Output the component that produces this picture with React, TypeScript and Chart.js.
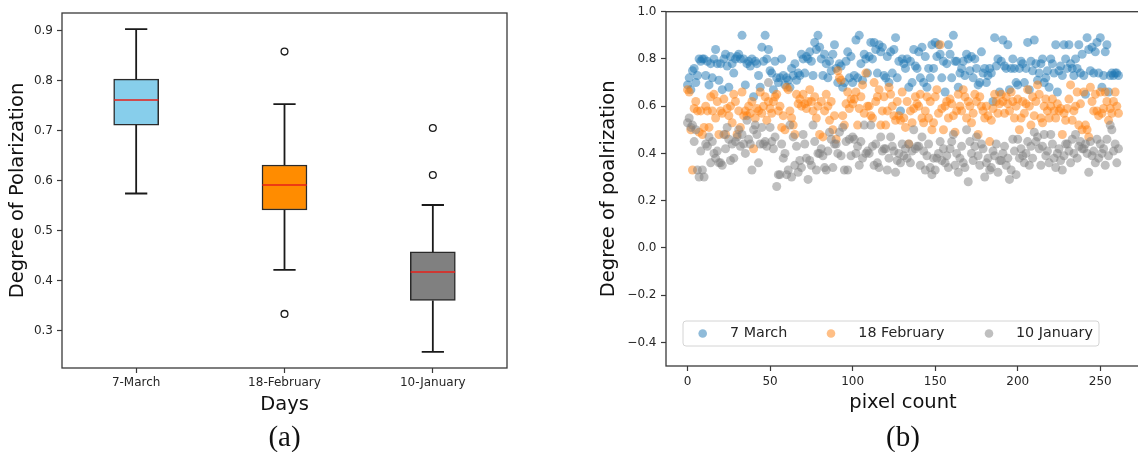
import React, { useEffect, useRef } from 'react';
import { Chart, registerables } from 'chart.js';

Chart.register(...registerables);

// ---------- Panel (a): box plot ----------
const dayLabels = ['7-March', '18-February', '10-January'];
const boxColors = ['#87CEEB', '#FF8C00', '#808080'];
const whiskerLow = [0.574, 0.421, 0.257];
const quartile1 = [0.711, 0.541, 0.36];
const medians = [0.761, 0.591, 0.417];
const quartile3 = [0.803, 0.631, 0.457];
const whiskerHigh = [0.903, 0.753, 0.551];
const outlierDay = [2, 2, 3, 3];
const outlierValue = [0.858, 0.333, 0.705, 0.611];
const boxYTicks = [0.3, 0.4, 0.5, 0.6, 0.7, 0.8, 0.9];
const boxXTicks = [1, 2, 3];

// ---------- Panel (b): scatter ----------
const seriesNames = ['7 March', '18 February', '10 January'];
const seriesColors = ['rgba(31,119,180,0.5)', 'rgba(255,127,14,0.5)', 'rgba(128,128,128,0.5)'];
const march7 = [
  0.69, 0.72, 0.67, 0.75, 0.76, 0.70, 0.73, 0.80, 0.79, 0.80,
  0.80, 0.73, 0.79, 0.69, 0.78, 0.72, 0.80, 0.84, 0.78, 0.71,
  0.78, 0.67, 0.80, 0.82, 0.77, 0.68, 0.81, 0.78, 0.74, 0.80,
  0.81, 0.82, 0.80, 0.90, 0.80, 0.69, 0.78, 0.79, 0.77, 0.80,
  0.64, 0.79, 0.78, 0.73, 0.68, 0.85, 0.79, 0.90, 0.80, 0.84,
  0.75, 0.74, 0.67, 0.79, 0.72, 0.70, 0.72, 0.80, 0.73, 0.69,
  0.72, 0.71, 0.68, 0.76, 0.73, 0.78, 0.71, 0.74, 0.73, 0.82,
  0.80, 0.74, 0.81, 0.80, 0.83, 0.79, 0.73, 0.87, 0.84, 0.90,
  0.85, 0.80, 0.73, 0.82, 0.78, 0.72, 0.79, 0.75, 0.82, 0.86,
  0.76, 0.70, 0.78, 0.77, 0.68, 0.70, 0.79, 0.83, 0.72, 0.81,
  0.70, 0.73, 0.88, 0.72, 0.90, 0.78, 0.71, 0.82, 0.80, 0.74,
  0.81, 0.87, 0.80, 0.87, 0.84, 0.74, 0.86, 0.83, 0.85, 0.73,
  0.72, 0.81, 0.70, 0.83, 0.74, 0.84, 0.89, 0.72, 0.79, 0.58,
  0.80, 0.78, 0.76, 0.80, 0.68, 0.79, 0.70, 0.84, 0.77, 0.76,
  0.83, 0.72, 0.85, 0.70, 0.81, 0.68, 0.76, 0.72, 0.86, 0.76,
  0.87, 0.81, 0.86, 0.82, 0.72, 0.79, 0.66, 0.78, 0.86, 0.82,
  0.72, 0.90, 0.79, 0.79, 0.68, 0.74, 0.76, 0.79, 0.73, 0.82,
  0.80, 0.75, 0.81, 0.72, 0.80, 0.76, 0.69, 0.70, 0.83, 0.74,
  0.76, 0.70, 0.73, 0.76, 0.74, 0.62, 0.89, 0.77, 0.80, 0.66,
  0.79, 0.88, 0.77, 0.76, 0.86, 0.67, 0.76, 0.80, 0.76, 0.70,
  0.69, 0.76, 0.79, 0.78, 0.70, 0.76, 0.87, 0.67, 0.79, 0.75,
  0.88, 0.78, 0.71, 0.74, 0.78, 0.80, 0.70, 0.72, 0.75, 0.68,
  0.80, 0.78, 0.74, 0.86, 0.66, 0.75, 0.77, 0.73, 0.86, 0.80,
  0.76, 0.86, 0.78, 0.76, 0.73, 0.80, 0.76, 0.86, 0.74, 0.82,
  0.73, 0.65, 0.89, 0.84, 0.75, 0.85, 0.74, 0.83, 0.87, 0.74,
  0.89, 0.68, 0.73, 0.83, 0.86, 0.66, 0.73, 0.74, 0.73, 0.74, 0.74, 0.73,
];
const feb18 = [
  0.67, 0.66, 0.50, 0.33, 0.59, 0.62, 0.58, 0.49, 0.58, 0.48,
  0.51, 0.60, 0.58, 0.51, 0.64, 0.58, 0.65, 0.55, 0.62, 0.48,
  0.58, 0.57, 0.63, 0.48, 0.59, 0.56, 0.60, 0.53, 0.65, 0.62,
  0.48, 0.58, 0.51, 0.66, 0.56, 0.58, 0.56, 0.60, 0.57, 0.62,
  0.42, 0.55, 0.59, 0.58, 0.66, 0.57, 0.60, 0.64, 0.54, 0.62,
  0.59, 0.57, 0.62, 0.64, 0.65, 0.58, 0.60, 0.51, 0.56, 0.50,
  0.68, 0.67, 0.58, 0.55, 0.52, 0.48, 0.65, 0.61, 0.63, 0.60,
  0.65, 0.61, 0.59, 0.62, 0.67, 0.62, 0.58, 0.64, 0.55, 0.60,
  0.48, 0.62, 0.47, 0.58, 0.65, 0.60, 0.54, 0.62, 0.50, 0.56,
  0.46, 0.75, 0.72, 0.71, 0.56, 0.52, 0.61, 0.66, 0.59, 0.63,
  0.61, 0.63, 0.66, 0.52, 0.59, 0.64, 0.69, 0.57, 0.74, 0.60,
  0.60, 0.56, 0.55, 0.70, 0.62, 0.64, 0.67, 0.52, 0.58, 0.64,
  0.52, 0.58, 0.68, 0.65, 0.60, 0.56, 0.54, 0.62, 0.56, 0.54,
  0.66, 0.55, 0.51, 0.62, 0.44, 0.58, 0.53, 0.59, 0.64, 0.61,
  0.60, 0.65, 0.55, 0.53, 0.58, 0.64, 0.55, 0.62, 0.50, 0.53,
  0.64, 0.67, 0.57, 0.86, 0.59, 0.50, 0.60, 0.62, 0.55, 0.63,
  0.61, 0.56, 0.49, 0.58, 0.65, 0.60, 0.58, 0.67, 0.64, 0.55,
  0.62, 0.60, 0.53, 0.57, 0.65, 0.62, 0.48, 0.64, 0.60, 0.58,
  0.55, 0.60, 0.56, 0.45, 0.54, 0.59, 0.65, 0.62, 0.57, 0.61,
  0.65, 0.62, 0.57, 0.64, 0.61, 0.58, 0.66, 0.62, 0.55, 0.60,
  0.63, 0.50, 0.55, 0.62, 0.57, 0.61, 0.67, 0.60, 0.52, 0.64,
  0.56, 0.62, 0.69, 0.65, 0.55, 0.53, 0.60, 0.63, 0.58, 0.55,
  0.60, 0.63, 0.58, 0.55, 0.61, 0.58, 0.59, 0.48, 0.57, 0.54,
  0.59, 0.63, 0.69, 0.54, 0.58, 0.60, 0.66, 0.52, 0.61, 0.50,
  0.66, 0.52, 0.50, 0.47, 0.68, 0.62, 0.58, 0.65, 0.58, 0.56,
  0.66, 0.57, 0.59, 0.66, 0.62, 0.54, 0.59, 0.57, 0.62, 0.66, 0.60, 0.57,
];
const jan10 = [
  0.53, 0.55, 0.51, 0.52, 0.45, 0.50, 0.33, 0.30, 0.41, 0.33,
  0.30, 0.44, 0.43, 0.47, 0.36, 0.45, 0.40, 0.38, 0.41, 0.36,
  0.36, 0.35, 0.48, 0.42, 0.51, 0.46, 0.37, 0.44, 0.38, 0.45,
  0.47, 0.50, 0.43, 0.48, 0.44, 0.40, 0.54, 0.46, 0.44, 0.33,
  0.50, 0.52, 0.48, 0.36, 0.44, 0.51, 0.44, 0.45, 0.43, 0.70,
  0.51, 0.45, 0.42, 0.47, 0.26, 0.31, 0.31, 0.44, 0.38, 0.40,
  0.31, 0.33, 0.52, 0.30, 0.47, 0.35, 0.43, 0.32, 0.37, 0.34,
  0.48, 0.44, 0.38, 0.29, 0.37, 0.35, 0.52, 0.45, 0.33, 0.40,
  0.40, 0.42, 0.39, 0.34, 0.33, 0.41, 0.49, 0.46, 0.34, 0.44,
  0.44, 0.40, 0.49, 0.39, 0.51, 0.33, 0.45, 0.33, 0.46, 0.39,
  0.47, 0.46, 0.40, 0.43, 0.35, 0.45, 0.38, 0.52, 0.40, 0.41,
  0.40, 0.52, 0.43, 0.35, 0.44, 0.36, 0.34, 0.47, 0.41, 0.42,
  0.42, 0.33, 0.38, 0.47, 0.43, 0.41, 0.32, 0.37, 0.40, 0.36,
  0.44, 0.39, 0.42, 0.38, 0.44, 0.36, 0.41, 0.50, 0.42, 0.43,
  0.43, 0.35, 0.47, 0.41, 0.33, 0.39, 0.44, 0.34, 0.31, 0.38,
  0.33, 0.38, 0.40, 0.45, 0.37, 0.42, 0.36, 0.39, 0.34, 0.42,
  0.45, 0.48, 0.35, 0.40, 0.32, 0.38, 0.43, 0.36, 0.34, 0.50,
  0.28, 0.45, 0.40, 0.37, 0.43, 0.47, 0.39, 0.35, 0.44, 0.42,
  0.30, 0.36, 0.38, 0.33, 0.34, 0.41, 0.39, 0.44, 0.32, 0.37,
  0.37, 0.40, 0.43, 0.35, 0.38, 0.29, 0.33, 0.46, 0.41, 0.31,
  0.46, 0.38, 0.42, 0.39, 0.36, 0.40, 0.45, 0.35, 0.43, 0.38,
  0.49, 0.45, 0.47, 0.42, 0.35, 0.43, 0.48, 0.39, 0.41, 0.36,
  0.48, 0.44, 0.38, 0.34, 0.40, 0.42, 0.37, 0.33, 0.39, 0.44,
  0.44, 0.41, 0.36, 0.46, 0.40, 0.48, 0.38, 0.43, 0.45, 0.42,
  0.42, 0.44, 0.40, 0.32, 0.45, 0.39, 0.41, 0.36, 0.46, 0.38,
  0.44, 0.40, 0.42, 0.35, 0.46, 0.39, 0.52, 0.50, 0.41, 0.44, 0.36, 0.42,
];
const scatterXTicks = [0, 50, 100, 150, 200, 250];
const scatterYTicks = [-0.4, -0.2, 0.0, 0.2, 0.4, 0.6, 0.8, 1.0];

const FONT = "'DejaVu Sans', sans-serif";
const INK = '#262626';
const SPINE = '#3a3a3a';

const fmt = (v: number) => {
  const s = Math.abs(v) < 1e-9 ? '0.0' : v.toFixed(1);
  return s.replace('-', '\u2212');
};

const framePlugin = {
  id: 'frame',
  afterDraw(chart: any, _args: any, opts: any) {
    const { ctx, chartArea: a } = chart;
    ctx.save();
    ctx.strokeStyle = SPINE;
    ctx.lineWidth = 1.3;
    ctx.strokeRect(a.left, a.top, a.right - a.left, a.bottom - a.top);
    ctx.fillStyle = '#111';
    ctx.font = "29px 'Liberation Serif', serif";
    ctx.textAlign = 'center';
    ctx.textBaseline = 'middle';
    ctx.fillText(opts.caption, (a.left + a.right) / 2, opts.captionY);
    ctx.restore();
  },
};

const legendPlugin = {
  id: 'boxLegend',
  afterDraw(chart: any, _args: any, opts: any) {
    if (!opts || !opts.show) return;
    const { ctx } = chart;
    const { x0, y0, w, h, markerX, textX } = opts;
    ctx.save();
    ctx.beginPath();
    const r = 3;
    ctx.moveTo(x0 + r, y0);
    ctx.lineTo(x0 + w - r, y0);
    ctx.quadraticCurveTo(x0 + w, y0, x0 + w, y0 + r);
    ctx.lineTo(x0 + w, y0 + h - r);
    ctx.quadraticCurveTo(x0 + w, y0 + h, x0 + w - r, y0 + h);
    ctx.lineTo(x0 + r, y0 + h);
    ctx.quadraticCurveTo(x0, y0 + h, x0, y0 + h - r);
    ctx.lineTo(x0, y0 + r);
    ctx.quadraticCurveTo(x0, y0, x0 + r, y0);
    ctx.closePath();
    ctx.fillStyle = 'rgba(255,255,255,0.8)';
    ctx.fill();
    ctx.strokeStyle = '#d4d4d4';
    ctx.lineWidth = 1;
    ctx.stroke();
    const cy = y0 + h / 2;
    ctx.font = `14.3px ${FONT}`;
    ctx.textAlign = 'left';
    ctx.textBaseline = 'middle';
    seriesNames.forEach((name, i) => {
      ctx.beginPath();
      ctx.arc(markerX[i], cy, 4.3, 0, Math.PI * 2);
      ctx.fillStyle = seriesColors[i];
      ctx.fill();
      ctx.fillStyle = INK;
      ctx.fillText(name, textX[i], cy);
    });
    ctx.restore();
  },
};

function boxChartConfig(): any {
  const medianData: any[] = [];
  const whiskerData: any[] = [];
  const capHalf = 0.075;
  const boxHalf = 0.15;
  dayLabels.forEach((_, i) => {
    const x = boxXTicks[i];
    medianData.push({ x: x - boxHalf, y: medians[i] }, { x: x + boxHalf, y: medians[i] }, { x, y: null });
    whiskerData.push(
      { x: x - capHalf, y: whiskerLow[i] }, { x: x + capHalf, y: whiskerLow[i] }, { x, y: null },
      { x, y: whiskerLow[i] }, { x, y: quartile1[i] }, { x, y: null },
      { x, y: quartile3[i] }, { x, y: whiskerHigh[i] }, { x, y: null },
      { x: x - capHalf, y: whiskerHigh[i] }, { x: x + capHalf, y: whiskerHigh[i] }, { x, y: null },
    );
  });
  return {
    type: 'bar',
    data: {
      datasets: [
        {
          type: 'line', data: medianData, borderColor: '#e8211a', borderWidth: 1.5,
          pointRadius: 0, spanGaps: false, order: 0,
        },
        {
          type: 'scatter', data: outlierDay.map((d, i) => ({ x: d, y: outlierValue[i] })),
          pointRadius: 3.4, pointBackgroundColor: 'rgba(0,0,0,0)', pointBorderColor: '#1a1a1a',
          pointBorderWidth: 1.3, order: 1,
        },
        {
          type: 'line', data: whiskerData, borderColor: '#1a1a1a', borderWidth: 1.8,
          pointRadius: 0, spanGaps: false, order: 2,
        },
        {
          type: 'bar', data: dayLabels.map((_, i) => ({ x: boxXTicks[i], y: [quartile1[i], quartile3[i]] })),
          backgroundColor: boxColors, borderColor: '#2a2a2a', borderWidth: 1.5,
          borderSkipped: false, barThickness: 45, order: 3,
        },
      ],
    },
    options: {
      animation: false,
      responsive: false,
      events: [],
      layout: { padding: { left: 0, top: 13, right: 53, bottom: 34 } },
      plugins: {
        legend: { display: false },
        tooltip: { enabled: false },
        frame: { caption: '(a)', captionY: 438 },
      },
      scales: {
        x: {
          type: 'linear', min: 0.5, max: 3.5, offset: false,
          afterBuildTicks: (s: any) => { s.ticks = boxXTicks.map((v) => ({ value: v })); },
          afterFit: (s: any) => { s.height = 50; },
          grid: { display: true, offset: false, drawOnChartArea: false, drawTicks: true, tickLength: 5, tickWidth: 1.2, tickColor: SPINE },
          border: { display: false },
          ticks: {
            color: INK, font: { family: FONT, size: 12 }, padding: 3, maxRotation: 0, autoSkip: false,
            callback: (v: number) => dayLabels[Math.round(v) - 1],
          },
          title: { display: true, text: 'Days', color: '#111', font: { family: FONT, size: 19.5 }, padding: { top: 0, bottom: 1.3 } },
        },
        y: {
          type: 'linear', min: 0.2247, max: 0.9353,
          afterBuildTicks: (s: any) => { s.ticks = boxYTicks.map((v) => ({ value: v })); },
          afterFit: (s: any) => { s.width = 62; },
          grid: { display: true, drawOnChartArea: false, drawTicks: true, tickLength: 5, tickWidth: 1.2, tickColor: SPINE },
          border: { display: false },
          ticks: { color: INK, font: { family: FONT, size: 12 }, padding: 4, callback: (v: number) => fmt(v) },
          title: { display: true, text: 'Degree of Polarization', color: '#111', font: { family: FONT, size: 19.5 }, padding: { top: 6.3, bottom: 0 } },
        },
      },
    },
    plugins: [framePlugin],
  };
}

function scatterChartConfig(): any {
  const all = [march7, feb18, jan10];
  return {
    type: 'scatter',
    data: {
      datasets: all.map((arr, k) => ({
        label: seriesNames[k],
        data: arr.map((v, i) => ({ x: i, y: v })),
        pointRadius: 4.5,
        pointBorderWidth: 0,
        pointBackgroundColor: seriesColors[k],
        pointBorderColor: 'rgba(0,0,0,0)',
        order: 2 - k,
      })),
    },
    options: {
      animation: false,
      responsive: false,
      events: [],
      layout: { padding: { left: 0, top: 11, right: 20, bottom: 36 } },
      plugins: {
        legend: { display: false },
        tooltip: { enabled: false },
        frame: { caption: '(b)', captionY: 438 },
        boxLegend: { show: true, x0: 103, y0: 321, w: 416, h: 25, markerX: [122.7, 251, 409], textX: [150, 278.3, 436] },
      },
      scales: {
        x: {
          type: 'linear', min: -13.05, max: 274.05,
          afterBuildTicks: (s: any) => { s.ticks = scatterXTicks.map((v) => ({ value: v })); },
          afterFit: (s: any) => { s.height = 50; },
          grid: { display: true, drawOnChartArea: false, drawTicks: true, tickLength: 5, tickWidth: 1.2, tickColor: SPINE },
          border: { display: false },
          ticks: { color: INK, font: { family: FONT, size: 12 }, padding: 3.5, maxRotation: 0, autoSkip: false, callback: (v: number) => String(v) },
          title: { display: true, text: 'pixel count', color: '#111', font: { family: FONT, size: 19.5 }, padding: { top: 0, bottom: 1 } },
        },
        y: {
          type: 'linear', min: -0.5, max: 1.0,
          afterBuildTicks: (s: any) => { s.ticks = scatterYTicks.map((v) => ({ value: v })); },
          afterFit: (s: any) => { s.width = 86; },
          grid: { display: true, drawOnChartArea: false, drawTicks: true, tickLength: 5, tickWidth: 1.2, tickColor: SPINE },
          border: { display: false },
          ticks: { color: INK, font: { family: FONT, size: 12 }, padding: 4.5, callback: (v: number) => fmt(v) },
          title: { display: true, text: 'Degree of poalrization', color: '#111', font: { family: FONT, size: 19.5 }, padding: { top: 16.8, bottom: 0 } },
        },
      },
    },
    plugins: [framePlugin, legendPlugin],
  };
}

export default function App() {
  const leftRef = useRef<HTMLCanvasElement | null>(null);
  const rightRef = useRef<HTMLCanvasElement | null>(null);

  useEffect(() => {
    const c1 = new Chart(leftRef.current as HTMLCanvasElement, boxChartConfig());
    const c2 = new Chart(rightRef.current as HTMLCanvasElement, scatterChartConfig());
    return () => {
      c1.destroy();
      c2.destroy();
    };
  }, []);

  return (
    <div style={{ position: 'absolute', left: 0, top: 0, width: 1138, height: 452, overflow: 'hidden', background: '#fff' }}>
      <canvas ref={leftRef} width={560} height={452} style={{ position: 'absolute', left: 0, top: 0, width: 560, height: 452 }} />
      <canvas ref={rightRef} width={580} height={452} style={{ position: 'absolute', left: 580, top: 0, width: 580, height: 452 }} />
    </div>
  );
}
